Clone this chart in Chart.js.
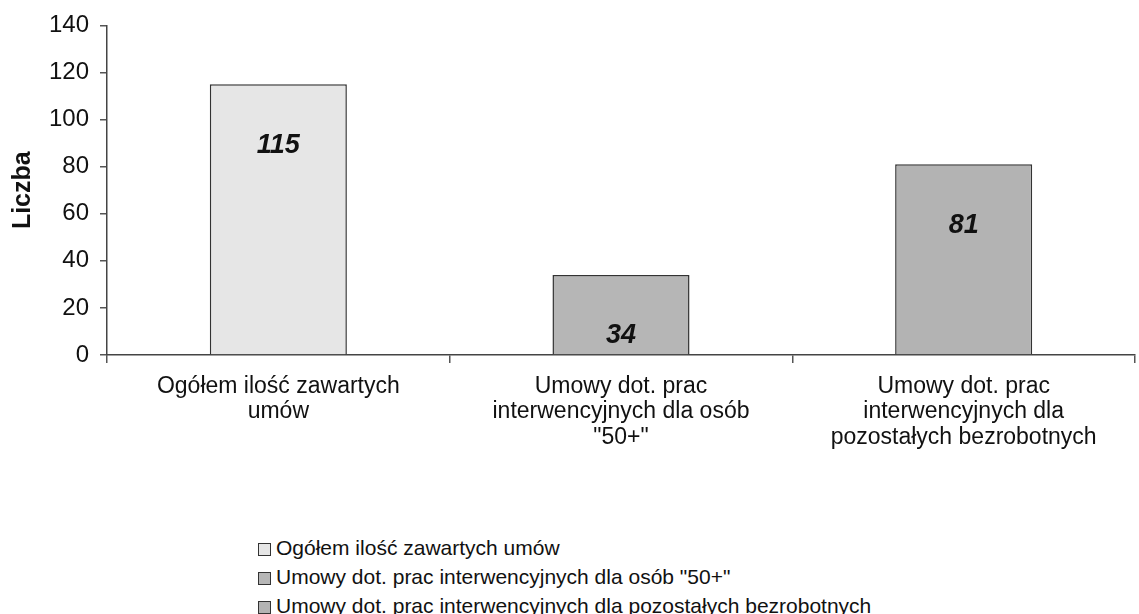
<!DOCTYPE html>
<html>
<head>
<meta charset="utf-8">
<script src="https://cdn.jsdelivr.net/npm/chart.js@4/dist/chart.umd.min.js"></script>
<style>
  body { margin: 0; background: #fff; font-family: "Liberation Sans", Arial, sans-serif; }
  #wrap { position: relative; width: 1139px; height: 614px; }
  #legend { position: absolute; left: 258px; top: 533px; color: #111; font-size: 21px; }
  #legend div { height: 29px; line-height: 29px; white-space: nowrap; }
  #legend span.box { display: inline-block; width: 11px; height: 11px; border: 1.5px solid #333; margin-right: 5px; vertical-align: -1px; }
</style>
</head>
<body>
<div id="wrap">
  <canvas id="chart" width="1139" height="500"></canvas>
  <div id="legend"></div>
</div>
<script>
const categories = [
    ['Ogółem ilość zawartych', 'umów'],
    ['Umowy dot. prac', 'interwencyjnych dla osób', '"50+"'],
    ['Umowy dot. prac', 'interwencyjnych dla', 'pozostałych bezrobotnych']
];
const seriesNames = [
    'Ogółem ilość zawartych umów',
    'Umowy dot. prac interwencyjnych dla osób "50+"',
    'Umowy dot. prac interwencyjnych dla pozostałych bezrobotnych'
];
const values = [115, 34, 81];
const barColors = ['#e6e6e6', '#b6b6b6', '#b3b3b3'];

// legend, one row per bar
const legendEl = document.getElementById('legend');
seriesNames.forEach((name, i) => {
    const row = document.createElement('div');
    const box = document.createElement('span');
    box.className = 'box';
    box.style.background = barColors[i];
    row.appendChild(box);
    row.appendChild(document.createTextNode(name));
    legendEl.appendChild(row);
});

// value labels inside the bars, bold italic
const valueLabels = {
    id: 'valueLabels',
    afterDatasetsDraw(chart) {
        const ctx = chart.ctx;
        const meta = chart.getDatasetMeta(0);
        ctx.save();
        ctx.font = 'italic bold 27px "Liberation Sans", Arial, sans-serif';
        ctx.fillStyle = '#111';
        ctx.textAlign = 'center';
        ctx.textBaseline = 'middle';
        meta.data.forEach((bar, i) => {
            ctx.fillText(String(values[i]), bar.x, bar.y + 61);
        });
        ctx.restore();
    }
};

new Chart(document.getElementById('chart').getContext('2d'), {
    type: 'bar',
    data: {
        labels: categories,
        datasets: [{
            data: values,
            backgroundColor: barColors,
            borderColor: '#333',
            borderWidth: 1.5,
            categoryPercentage: 1,
            barPercentage: 0.4
        }]
    },
    options: {
        responsive: false,
        animation: false,
        layout: { padding: { top: 25, right: 4, left: 0, bottom: 0 } },
        plugins: { legend: { display: false }, tooltip: { enabled: false } },
        scales: {
            x: {
                afterFit: s => { s.height = 145; },
                grid: { display: true, drawOnChartArea: false, offset: true, color: '#555', tickLength: 8, lineWidth: 1.5 },
                border: { color: '#444', width: 1.5 },
                ticks: {
                    color: '#111', padding: 11, maxRotation: 0, autoSkip: false,
                    font: { family: '"Liberation Sans", Arial, sans-serif', size: 23, lineHeight: 1.1 }
                }
            },
            y: {
                min: 0, max: 140,
                afterFit: s => { s.width = 107; },
                grid: { display: true, drawOnChartArea: false, color: '#555', tickLength: 7, lineWidth: 1.5 },
                border: { color: '#444', width: 1.5 },
                ticks: {
                    stepSize: 20, color: '#111', padding: 11,
                    font: { family: '"Liberation Sans", Arial, sans-serif', size: 24 }
                },
                title: {
                    display: true, text: 'Liczba', color: '#111', padding: { top: 8, bottom: 4 },
                    font: { family: '"Liberation Sans", Arial, sans-serif', size: 25, weight: 'bold' }
                }
            }
        }
    },
    plugins: [valueLabels]
});
</script>
</body>
</html>
